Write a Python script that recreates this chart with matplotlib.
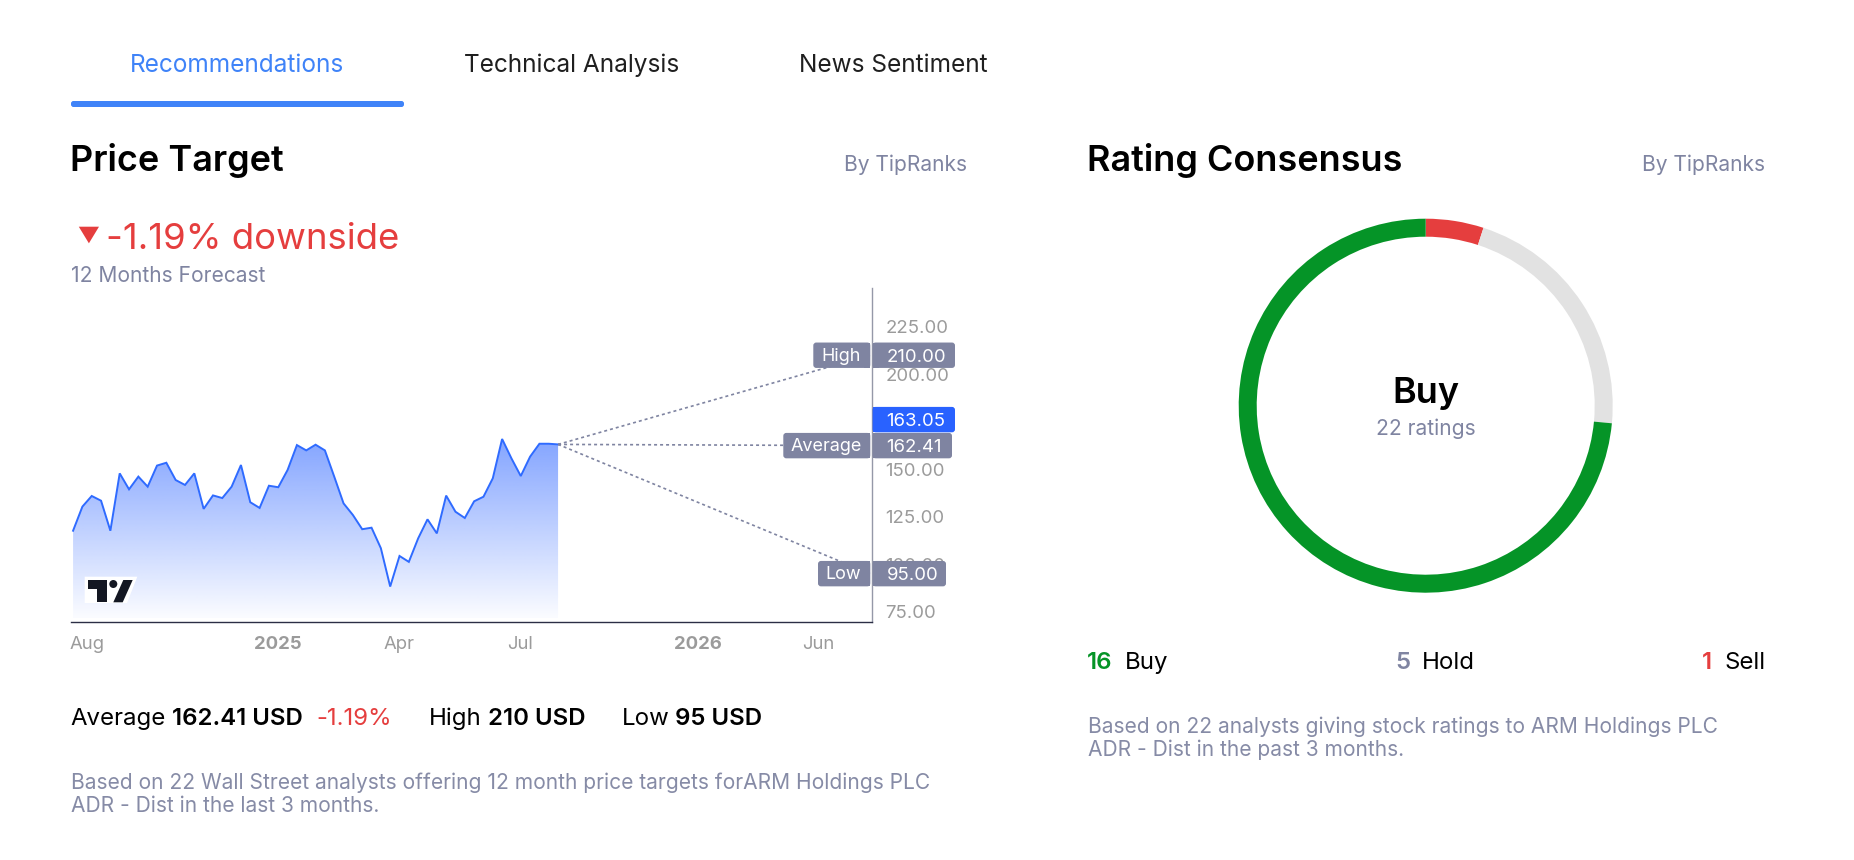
#! /usr/bin/env python

import numpy as np
import matplotlib
matplotlib.use("Agg")
import matplotlib.pyplot as plt
from matplotlib.patches import FancyBboxPatch, Polygon, Circle, Rectangle

plt.rcParams['font.family'] = ['Inter', 'DejaVu Sans']

# weekly closes
prices = [117.6, 130.3, 135.9, 133.4, 117.6, 147.8, 139.4, 146.1, 140.8, 151.9,
          153.4, 144.3, 141.7, 147.8, 129.1, 136.2, 134.8, 140.8, 152.2, 132.6,
          129.6, 141.3, 140.5, 149.6, 162.7, 159.9, 162.9, 159.9, 146.1, 132.0,
          125.9, 118.4, 119.2, 108.4, 88.2, 104.3, 101.2, 113.6, 123.6, 116.2,
          136.1, 127.6, 124.3, 133.1, 135.5, 145.2, 165.9, 155.7, 146.4, 156.6,
          163.4, 163.4, 163.05]
weeks = list(range(len(prices)))

x_tick_pos = [1.47, 21.97, 35.0, 47.96, 66.96, 79.93]
x_tick_labels = ['Aug', '2025', 'Apr', 'Jul', '2026', 'Jun']
year_labels = ['2025', '2026']
y_ticks = [75, 100, 125, 150, 175, 200, 225]

current_price = 163.05
target_names = ['High', 'Average', 'Low']
target_values = [210.00, 162.41, 95.00]

rating_names = ['Sell', 'Hold', 'Buy']
rating_counts = [1, 5, 16]
ring_shares = [5.0, 21.5, 73.5]   # arc shares as drawn, in percent

BLUE = '#2962FF'
TAB_BLUE = '#3F83F8'
GREY_BLUE = '#7F84A1'
FOOT = '#868BA6'
TICK = '#9B9B9B'
RED = '#E53E3E'
GREEN = '#059427'
RING_GREY = '#E2E2E2'
DARK = '#1F1F1F'


def px(size):
    # css pixels to points, dpi is 100
    return size * 0.72


fig = plt.figure(figsize=(18.54, 8.6), dpi=100, facecolor='white')

# price chart
ax = fig.add_axes([71 / 1854, (860 - 621.7) / 860, (872.3 - 71) / 1854, (621.7 - 288) / 860])
for side in ['top', 'left']:
    ax.spines[side].set_visible(False)
ax.spines['bottom'].set_color('#2B2E45')
ax.spines['bottom'].set_linewidth(1.0)
ax.spines['right'].set_color('#9598A8')
ax.spines['right'].set_linewidth(1.0)

poly = ax.fill_between(weeks, prices, 71.5, color='none')
grad = np.zeros((256, 1, 4))
grad[:, :, 0] = 41 / 255
grad[:, :, 1] = 98 / 255
grad[:, :, 2] = 1.0
grad[:, 0, 3] = np.linspace(0.58, 0.02, 256)
img = ax.imshow(grad, extent=(weeks[0], weeks[-1], 71.5, max(prices)), origin='upper',
                aspect='auto', zorder=1, interpolation='bilinear')
img.set_clip_path(poly.get_paths()[0], transform=ax.transData)
ax.set_xlim(-0.222, 85.69)
ax.set_ylim(69.7, 245.4)
ax.plot(weeks, prices, color='#2F6BFF', lw=1.4, zorder=2, solid_joinstyle='miter')

for val in target_values:
    ax.plot([weeks[-1], 85.44], [current_price, val], color=GREY_BLUE, lw=1.2,
            ls=(0, (1.8, 1.8)), zorder=2)

ax.yaxis.tick_right()
ax.set_yticks(y_ticks)
ax.set_yticklabels(['%.2f' % t for t in y_ticks], fontsize=px(18.6), color=TICK)
ax.tick_params(axis='y', length=0, pad=9.5)
ax.set_xticks(x_tick_pos)
ax.set_xticklabels(x_tick_labels, fontsize=px(18.5), color=TICK)
ax.tick_params(axis='x', length=0, pad=10.5)
for lab in ax.get_xticklabels():
    if lab.get_text() in year_labels:
        lab.set_fontweight('bold')

# everything else sits on a full size overlay in picture pixels
ov = fig.add_axes([0, 0, 1, 1], facecolor='none', zorder=5)
ov.set_xlim(0, 1854)
ov.set_ylim(860, 0)
ov.axis('off')


def price_y(val):
    pt = ax.transData.transform((0, val))
    return ov.transData.inverted().transform(pt)[1]


def label_box(x0, x1, yc, color, txt, txt_x, ha, size, dy, corners='both'):
    ov.add_patch(FancyBboxPatch((x0 + 2, yc - 10.7), x1 - x0 - 4, 21.4,
                                boxstyle='round,pad=2,rounding_size=3', fc=color, ec='none', zorder=3))
    if corners == 'right':
        ov.add_patch(Rectangle((x0, yc - 12.7), 6, 25.4, fc=color, ec='none', zorder=3))
    if corners == 'left':
        ov.add_patch(Rectangle((x1 - 6, yc - 12.7), 6, 25.4, fc=color, ec='none', zorder=3))
    ov.text(txt_x, yc + dy, txt, color='white', fontsize=px(size), ha=ha, va='center_baseline', zorder=4)


name_left = {'High': 813.3, 'Average': 783.3, 'Low': 818}
value_right = {'High': 955, 'Average': 952, 'Low': 946}
name_center = {'High': 841, 'Average': 826, 'Low': 843.5}
for name, val in zip(target_names, target_values):
    yc = price_y(val)
    label_box(name_left[name], 870.3, yc, GREY_BLUE, name, name_center[name], 'center', 18, -1.2, 'left')
    label_box(872.6, value_right[name], yc, GREY_BLUE, '%.2f' % val, 886.5, 'left', 18.6, 0, 'right')
label_box(872.6, 955, price_y(current_price) - 24.8, BLUE, '%.2f' % current_price, 886.5, 'left', 18.6, 0.3, 'right')

# tradingview mark
ov.add_patch(Polygon([(84.7, 576.7), (137.3, 576.7), (127, 603), (84.7, 603)], fc='white', ec='none', zorder=3))
ov.add_patch(Polygon([(87.7, 580), (106.7, 580), (106.7, 602.3), (96.7, 602.3), (96.7, 589), (87.7, 589)],
                     fc='#131722', ec='none', zorder=4))
ov.add_patch(Circle((113.3, 584), 4, fc='#131722', ec='none', zorder=4))
ov.add_patch(Polygon([(123.3, 580), (132.7, 580), (122.7, 602.3), (113.3, 602.3)], fc='#131722', ec='none', zorder=4))

# tabs
ov.text(237.4, 65.5, 'Recommendations', color=TAB_BLUE, fontsize=px(24.4), ha='center', va='center')
ov.text(571.7, 65.5, 'Technical Analysis', color=DARK, fontsize=px(24.4), ha='center', va='center')
ov.text(893.8, 65.5, 'News Sentiment', color=DARK, fontsize=px(24.4), ha='center', va='center')
ov.add_patch(FancyBboxPatch((73, 103), 329, 2, boxstyle='round,pad=2,rounding_size=2.5', fc=TAB_BLUE, ec='none'))

# headers
ov.text(70.5, 171, 'Price Target', color='black', fontsize=px(36), fontweight='semibold', va='baseline')
ov.text(966.7, 171, 'By TipRanks', color=GREY_BLUE, fontsize=px(21), ha='right', va='baseline')
ov.text(1087, 171, 'Rating Consensus', color='black', fontsize=px(36), fontweight='semibold', va='baseline')
ov.text(1765.5, 171, 'By TipRanks', color=GREY_BLUE, fontsize=px(21), ha='right', va='baseline')

ov.add_patch(Polygon([(78.8, 226.7), (99, 226.7), (88.9, 243.3)], fc=RED, ec='none'))
ov.text(106.5, 249, '-1.19% downside', color=RED, fontsize=px(36.5), va='baseline')
ov.text(71, 281.7, '12 Months Forecast', color=GREY_BLUE, fontsize=px(21), va='baseline')

# summary row
row_y = 725
ov.text(70, row_y, 'Average', color='black', fontsize=px(24), va='baseline')
ov.text(172.5, row_y, '162.41 USD', color='black', fontsize=px(24), fontweight='semibold', va='baseline')
ov.text(316, row_y, '-1.19%', color=RED, fontsize=px(24), va='baseline')
ov.text(428.7, row_y, 'High', color='black', fontsize=px(24), va='baseline')
ov.text(488, row_y, '210 USD', color='black', fontsize=px(24), fontweight='semibold', va='baseline')
ov.text(621.6, row_y, 'Low', color='black', fontsize=px(24), va='baseline')
ov.text(675.5, row_y, '95 USD', color='black', fontsize=px(24), fontweight='semibold', va='baseline')

ov.text(71, 788.7, 'Based on 22 Wall Street analysts offering 12 month price targets forARM Holdings PLC',
        color=FOOT, fontsize=px(21), va='baseline')
ov.text(71, 812.3, 'ADR - Dist in the last 3 months.', color=FOOT, fontsize=px(21), va='baseline')

# rating ring
ring = fig.add_axes([(1425.7 - 187) / 1854, (860 - 405.7 - 187) / 860, 374 / 1854, 374 / 860], zorder=2)
ring.pie(ring_shares, colors=[RED, RING_GREY, GREEN], startangle=90, counterclock=False, radius=1.0,
         wedgeprops={'width': 18 / 187, 'linewidth': 0})
ring.set_xlim(-1, 1)
ring.set_ylim(-1, 1)

ov.text(1426, 402.7, 'Buy', color='black', fontsize=px(36), fontweight='semibold', ha='center', va='baseline')
ov.text(1426, 435, '%d ratings' % sum(rating_counts), color=GREY_BLUE, fontsize=px(21), ha='center', va='baseline')

leg_y = 669.3
ov.text(1086.4, leg_y, str(rating_counts[2]), color=GREEN, fontsize=px(24), fontweight='semibold', va='baseline')
ov.text(1125, leg_y, rating_names[2], color='black', fontsize=px(24), va='baseline')
ov.text(1395.5, leg_y, str(rating_counts[1]), color=GREY_BLUE, fontsize=px(24), fontweight='semibold', va='baseline')
ov.text(1421.4, leg_y, rating_names[1], color='black', fontsize=px(24), va='baseline')
ov.text(1701.8, leg_y, str(rating_counts[0]), color=RED, fontsize=px(24), fontweight='semibold', va='baseline')
ov.text(1765.5, leg_y, rating_names[0], color='black', fontsize=px(24), ha='right', va='baseline')

ov.text(1088, 732.7, 'Based on 22 analysts giving stock ratings to ARM Holdings PLC',
        color=FOOT, fontsize=px(21), va='baseline')
ov.text(1088, 756, 'ADR - Dist in the past 3 months.', color=FOOT, fontsize=px(21), va='baseline')

fig.savefig('out.png', dpi=100)
